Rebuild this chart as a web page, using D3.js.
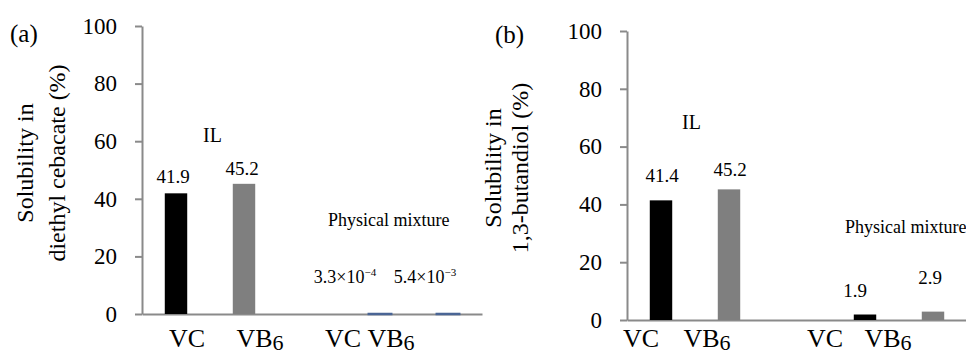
<!DOCTYPE html>
<head>
  <meta charset="utf-8">
  <title>Solubility of vitamins</title>
  <style>
    body {margin: 0; background: #fff;}
    svg {display: block;}
    svg text {font-family: "Liberation Serif", "DejaVu Serif", serif;}
    .axis path, .axis line {
        fill: none;
        stroke: #8a8a8a;
        stroke-width: 2;
    }
    .axis text {font-size: 23px; fill: #000;}
</style>
</head>
<body>
  <svg width="966" height="354" font-family="Liberation Serif, serif"></svg>
  <script src="https://d3js.org/d3.v7.min.js"></script>
  <script>

    // data
    var slots = ["IL-VC", "IL-VB6", "gap", "PM-VC", "PM-VB6"];
    var slotNames = ["VC", "VB", "", "VC", "VB"];
    var slotSubs = ["", "6", "", "", "6"];
    var yTicks = [0, 20, 40, 60, 80, 100];

    var solubilityA = [41.9, 45.2, null, 3.3e-4, 5.4e-3];
    var labelsA = ["41.9", "45.2", "", ["3.3×10", "−4"], ["5.4×10", "−3"]];

    var solubilityB = [41.4, 45.2, null, 1.9, 2.9];
    var labelsB = ["41.4", "45.2", "", "1.9", "2.9"];

    var svg = d3.select("svg");

    //layout of the two panels
    var panels = [
      {
        tag: "(a)", title: ["Solubility in", "diethyl cebacate (%)"],
        values: solubilityA, labels: labelsA,
        left: 142, top: 26, bottom: 314,
        colors: ["#000", "#7f7f7f", "none", "#000", "#7f7f7f"],
        edge: ["none", "none", "none", "#4a6595", "#4a6595"],
        tagPos: [10, 33], titleX: [25, 57], titleY: 163,
        ilPos: [203, 135], pmPos: [328, 220],
        labelDx: [-3, -2, 0, -35, -23], labelDy: [-17, -15, 0, -37, -37],
        nameDx: [11, 16, 0, -37, -57], nameY: 347
      },
      {
        tag: "(b)", title: ["Solubility in", "1,3-butandiol (%)"],
        values: solubilityB, labels: labelsB,
        left: 627, top: 31, bottom: 320,
        colors: ["#000", "#7f7f7f", "none", "#000", "#7f7f7f"],
        edge: ["none", "none", "none", "none", "none"],
        tagPos: [495, 34], titleX: [493, 520], titleY: 168,
        ilPos: [682, 122], pmPos: [845, 227],
        labelDx: [1, 1, 0, -10, -3], labelDy: [-25, -20, 0, -24, -34],
        nameDx: [-20, -22, 0, -40, -45], nameY: 347
      }
    ];

    panels.forEach(function(p) {

      var x = d3.scaleBand().domain(slots).range([p.left, p.left + 340])
          .paddingInner(0.67).paddingOuter(0.335);
      var y = d3.scaleLinear().domain([0, 100]).range([p.bottom, p.top]);

      var g = svg.append("g");

      // baseline
      g.append("g")
          .attr("class", "axis")
          .attr("transform", "translate(0," + p.bottom + ")")
          .call(d3.axisBottom(x).tickSize(0).tickFormat(""));

      // y axis
      g.append("g")
          .attr("class", "axis")
          .attr("transform", "translate(" + p.left + ",0)")
          .call(d3.axisLeft(y).tickValues(yTicks).tickSize(7).tickSizeOuter(0).tickPadding(18))
          .attr("font-family", "Liberation Serif, serif")
          .attr("font-size", 23);

      // bars
      var rows = slots.map(function(s, i) { return {key: s, v: p.values[i], i: i}; })
          .filter(function(d) { return d.v != null; });

      g.selectAll(".bar")
          .data(rows)
        .enter().append("rect")
          .attr("class", "bar")
          .attr("x", function(d) { return x(d.key); })
          .attr("width", x.bandwidth())
          .attr("y", function(d) { return y(d.v); })
          .attr("height", function(d) { return y(0) - y(d.v); })
          .attr("fill", function(d) { return p.colors[d.i]; })
          .attr("stroke", function(d) { return p.edge[d.i]; })
          .attr("stroke-width", 2.5);

      // value labels
      var vl = g.selectAll(".vlabel")
          .data(rows)
        .enter().append("text")
          .attr("class", "vlabel")
          .attr("x", function(d) { return x(d.key) + x.bandwidth() / 2 + p.labelDx[d.i]; })
          .attr("y", function(d) { return y(d.v) + p.labelDy[d.i]; })
          .attr("dy", "0.35em")
          .attr("text-anchor", "middle")
          .attr("font-size", 19);
      vl.each(function(d) {
        var lab = p.labels[d.i], t = d3.select(this);
        if (typeof lab === "string") { t.text(lab); return; }
        t.attr("font-size", 18);
        t.append("tspan").text(lab[0]);
        t.append("tspan").attr("font-size", 11).attr("dy", -7).text(lab[1]);
      });

      // category names under the axis
      var nm = g.selectAll(".name")
          .data(slots.map(function(s, i) { return {key: s, i: i}; }).filter(function(d) { return slotNames[d.i]; }))
        .enter().append("text")
          .attr("class", "name")
          .attr("x", function(d) { return x(d.key) + x.bandwidth() / 2 + p.nameDx[d.i]; })
          .attr("y", p.nameY)
          .attr("text-anchor", "middle")
          .attr("font-size", 26);
      nm.each(function(d) {
        var t = d3.select(this);
        t.append("tspan").text(slotNames[d.i]);
        if (slotSubs[d.i]) t.append("tspan").attr("font-size", 22).attr("dy", 3).text(slotSubs[d.i]);
      });

      // axis title
      g.append("text")
          .attr("transform", "translate(" + p.titleX[0] + "," + p.titleY + ") rotate(-90)")
          .attr("dy", "0.35em")
          .attr("text-anchor", "middle")
          .attr("font-size", 24)
          .text(p.title[0]);
      g.append("text")
          .attr("transform", "translate(" + p.titleX[1] + "," + p.titleY + ") rotate(-90)")
          .attr("dy", "0.35em")
          .attr("text-anchor", "middle")
          .attr("font-size", 24)
          .text(p.title[1]);

      // panel tag and group notes
      g.append("text")
          .attr("x", p.tagPos[0]).attr("y", p.tagPos[1])
          .attr("dy", "0.35em")
          .attr("font-size", 25)
          .text(p.tag);
      g.append("text")
          .attr("x", p.ilPos[0]).attr("y", p.ilPos[1])
          .attr("dy", "0.35em")
          .attr("font-size", 20)
          .text("IL");
      g.append("text")
          .attr("x", p.pmPos[0]).attr("y", p.pmPos[1])
          .attr("dy", "0.35em")
          .attr("font-size", 18)
          .text("Physical mixture");
    });
  </script>
</body>
